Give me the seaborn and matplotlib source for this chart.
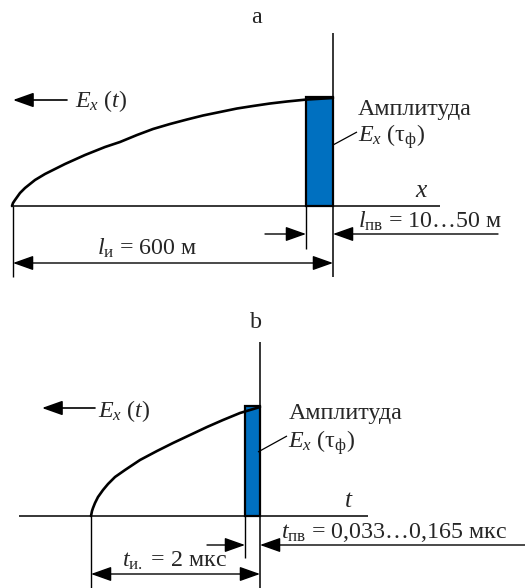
import matplotlib
matplotlib.use("Agg")
import matplotlib.pyplot as plt
import seaborn as sns

sns.set_theme(style="white")
plt.rcParams['font.family'] = ['Liberation Serif', 'DejaVu Serif']
plt.rcParams['mathtext.fontset'] = 'custom'
plt.rcParams['mathtext.rm'] = 'Liberation Serif'
plt.rcParams['mathtext.it'] = 'Liberation Serif:italic'
plt.rcParams['mathtext.bf'] = 'Liberation Serif:bold'

# ---- data (pixel-space schematic) ----
curve_a_x = [12, 13, 15, 20, 25, 35, 45, 55, 65, 75, 85, 95, 105, 120, 137,
             153, 170, 187, 203, 220, 237, 253, 270, 287, 307, 333]
curve_a_y = [206, 203, 200, 193, 188, 180, 174, 169, 164, 159.5, 155, 151, 147,
             142, 135, 129, 124, 119.5, 115.5, 112, 108.5, 106, 103.5, 101.5,
             99.5, 98]
curve_b_x = [91, 92, 93, 95, 98, 103, 108, 115, 125, 140, 157, 173, 190, 207,
             223, 240, 260]
curve_b_y = [516, 511, 508, 503, 497, 490, 484, 477, 470, 460, 451, 443, 435,
             427, 420, 413, 407]

pulse_a = dict(left=306, right=333, top=97, base=206)
pulse_b = dict(left=245, right=260, top=406, base=516)

title_a = "a"
title_b = "b"
amp_label = "Амплитуда"
field_label = r"$E_x$ ($t$)"
amp_field_label = r"$E_x$ (τ$_{\mathrm{ф}}$)"
axis_a = r"$x$"
axis_b = r"$t$"
front_a = r"$l_{\mathrm{пв}}$ = 10…50 м"
front_b = r"$t_{\mathrm{пв}}$ = 0,033…0,165 мкс"
len_a = r"$l_{\mathrm{и}}$ = 600 м"
len_b = r"$t_{\mathrm{и.}}$ = 2 мкс"

BLUE = "#0070c0"
FS = 17.3

fig = plt.figure(figsize=(5.25, 5.88), dpi=100)
ax = fig.add_axes([0, 0, 1, 1])
ax.set_xlim(0, 525)
ax.set_ylim(588, 0)
ax.axis("off")


def arrow(tail, tip, lw=1.0, style='-|>'):
    ax.annotate('', xy=tip, xytext=tail,
                arrowprops=dict(arrowstyle=f'{style},head_length=0.9,head_width=0.32',
                                color='black', lw=lw, shrinkA=0, shrinkB=0,
                                mutation_scale=14))


def line(xs, ys, lw=1.1):
    ax.plot(xs, ys, color='black', lw=lw, solid_capstyle='butt')


# ---------------- panel a ----------------
ax.bar(pulse_a['left'], pulse_a['top'] - pulse_a['base'],
       width=pulse_a['right'] - pulse_a['left'], bottom=pulse_a['base'],
       align='edge', color=BLUE, edgecolor='black', linewidth=1.6, zorder=2)
sns.lineplot(x=curve_a_x, y=curve_a_y, sort=False, ax=ax, color='black',
             lw=1.9, zorder=3)
line([13, 440], [206, 206])                 # baseline
line([333, 333], [33, 277])                 # vertical axis
line([13, 13], [206, 277], lw=1.0)
line([306, 306], [206, 249], lw=1.0)
arrow((67, 100), (13, 100), lw=1.2)
ax.text(256, 23, title_a, fontsize=FS, ha='center', va='baseline')
ax.text(75, 107, field_label, fontsize=FS, va='baseline')
ax.text(358, 115, amp_label, fontsize=FS, va='baseline')
ax.text(358, 142, amp_field_label, fontsize=FS, va='baseline')
line([333, 357], [145, 132], lw=0.9)
ax.text(422, 197, axis_a, fontsize=FS + 1, ha='center', va='baseline')
ax.text(358, 228, front_a, fontsize=FS, va='baseline')
arrow((265, 234), (306, 234))
arrow((498, 234), (333, 234))
arrow((13, 263), (333, 263), style='<|-|>')
ax.text(97, 255, len_a, fontsize=FS, va='baseline')

# ---------------- panel b ----------------
ax.bar(pulse_b['left'], pulse_b['top'] - pulse_b['base'],
       width=pulse_b['right'] - pulse_b['left'], bottom=pulse_b['base'],
       align='edge', color=BLUE, edgecolor='black', linewidth=1.6, zorder=2)
sns.lineplot(x=curve_b_x, y=curve_b_y, sort=False, ax=ax, color='black',
             lw=1.9, zorder=3)
line([19, 368], [516, 516])
line([260, 260], [342, 588])
line([91, 91], [516, 588], lw=1.0)
line([245, 245], [516, 558], lw=1.0)
arrow((95, 408), (42, 408), lw=1.2)
ax.text(256, 328, title_b, fontsize=FS, ha='center', va='baseline')
ax.text(98, 417, field_label, fontsize=FS, va='baseline')
ax.text(289, 419, amp_label, fontsize=FS, va='baseline')
ax.text(288, 448, amp_field_label, fontsize=FS, va='baseline')
line([258, 287], [452, 436], lw=0.9)
ax.text(349, 507, axis_b, fontsize=FS + 1, ha='center', va='baseline')
ax.text(281, 538, front_b, fontsize=FS, va='baseline')
arrow((207, 545), (245, 545))
arrow((525, 545), (260, 545))
arrow((91, 574), (260, 574), style='<|-|>')
ax.text(122, 567, len_b, fontsize=FS, va='baseline')

fig.savefig("out.png", dpi=100)
